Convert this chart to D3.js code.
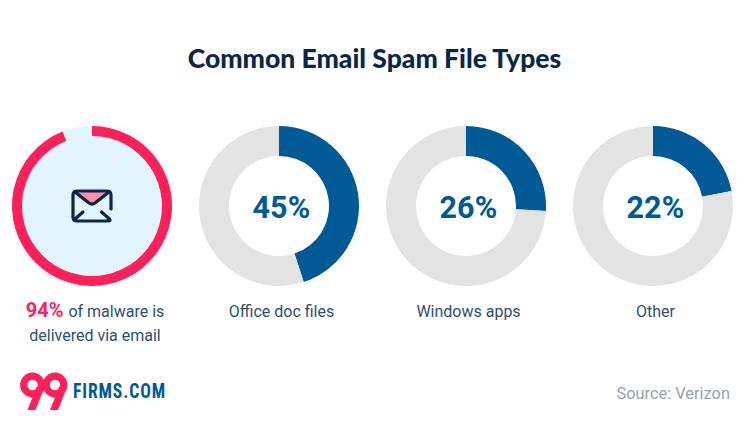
<!DOCTYPE html>
<html><head><meta charset="utf-8">
<script src="https://cdn.jsdelivr.net/npm/d3@7/dist/d3.min.js"></script>
<style>html,body{margin:0;padding:0;background:#fff}svg{display:block}</style>
</head><body>
<svg id="c" width="750" height="430"></svg>
<script>
const titleText = "Common Email Spam File Types";
const categories = ["Malware via email", "Office doc files", "Windows apps", "Other"];
const shares = [94, 45, 26, 22];
const labels = ["94%", "45%", "26%", "22%"];
const captions = [["of malware is", "delivered via email"], ["Office doc files"], ["Windows apps"], ["Other"]];
const sourceText = "Source: Verizon";

const NAVY = "#0a2748", BLUE = "#005a96", GREY = "#e3e3e3", PINK = "#ff1f5a", PALE = "#e2f5fc", TEXT = "#2c4f6d";
const LABEL_FONT = "Roboto, sans-serif";
const svg = d3.select("#c");

svg.append("text").attr("x", 374.5).attr("y", 68).attr("text-anchor", "middle")
  .attr("font-family", "Lato, sans-serif").attr("font-weight", 900).attr("font-size", 26.5)
  .attr("fill", NAVY).text(titleText);

const x = d3.scalePoint().domain(categories).range([92, 653]);
const cy = 206, R = 80;
const pie = d3.pie().sort(null).value(d => d);

categories.forEach((cat, i) => {
  const g = svg.append("g").attr("transform", `translate(${x(cat)},${cy})`);
  const arcs = pie([shares[i], 100 - shares[i]]);
  if (i === 0) {
    g.append("circle").attr("r", R).attr("fill", PALE);
    g.append("path").attr("d", d3.arc().innerRadius(R - 10).outerRadius(R)(arcs[0])).attr("fill", PINK);
  } else {
    const arc = d3.arc().innerRadius(50).outerRadius(R);
    g.selectAll("path").data(arcs).join("path").attr("d", arc).attr("fill", (d, j) => j === 0 ? BLUE : GREY);
    g.append("text").attr("x", 2.5).attr("y", 12).attr("text-anchor", "middle")
      .attr("font-family", LABEL_FONT).attr("font-weight", 700).attr("font-size", 30.5).attr("letter-spacing", 0.2)
      .attr("fill", BLUE).text(labels[i]);
  }
  const t = g.append("text").attr("text-anchor", "middle").attr("font-family", LABEL_FONT)
    .attr("font-size", 16).attr("fill", TEXT);
  captions[i].forEach((line, k) => {
    const ts = t.append("tspan").attr("x", i === 0 ? 3 : 2.5).attr("y", 111 + k * 24);
    if (i === 0 && k === 0) {
      ts.append("tspan").attr("font-weight", 700).attr("font-size", 20).attr("fill", PINK).text(labels[0] + " ");
      ts.append("tspan").text(line);
    } else ts.text(line);
  });
});

// envelope icon
const env = svg.append("g").attr("transform", `translate(${x(categories[0])},${cy})`);
env.append("path").attr("d", "M-17,-15 L17,-15 L3,-3 Q0,-1 -3,-3 Z").attr("fill", "#ff8fab");
env.append("path").attr("fill", "none").attr("stroke", NAVY).attr("stroke-width", 3.2)
  .attr("stroke-linecap", "round").attr("stroke-linejoin", "round")
  .attr("d", "M19,3 V-11 Q19,-15 15,-15 H-15 Q-19,-15 -19,-11 V11 Q-19,15 -15,15 H16 Q19,15 17.5,13 L9.5,6 M-17,-14 L-3,-3 Q0,-1 3,-3 L17,-14 M-17,13 L-9,6");

// logo
const logo = svg.append("g");
[[32.5, 385], [55, 385]].forEach(([lx, ly]) => {
  logo.append("circle").attr("cx", lx).attr("cy", ly).attr("r", 8.8).attr("fill", "none").attr("stroke", PINK).attr("stroke-width", 7.2);
  logo.append("path").attr("d", `M${lx + 12.4},${ly + 1} L${lx + 3},${ly + 25} L${lx - 5},${ly + 25} L${lx + 4},${ly + 2} Z`).attr("fill", PINK);
});
logo.append("text").attr("x", 73).attr("y", 398).attr("font-family", "'Roboto Condensed', Roboto, sans-serif")
  .attr("font-weight", 700).attr("font-size", 20).attr("letter-spacing", 1).attr("fill", BLUE)
  .attr("textLength", 93).attr("lengthAdjust", "spacingAndGlyphs").text("FIRMS.COM");

svg.append("text").attr("x", 730).attr("y", 399).attr("text-anchor", "end")
  .attr("font-family", LABEL_FONT).attr("font-size", 16.4).attr("fill", "#97a3ab").text(sourceText);
</script>
</body></html>
